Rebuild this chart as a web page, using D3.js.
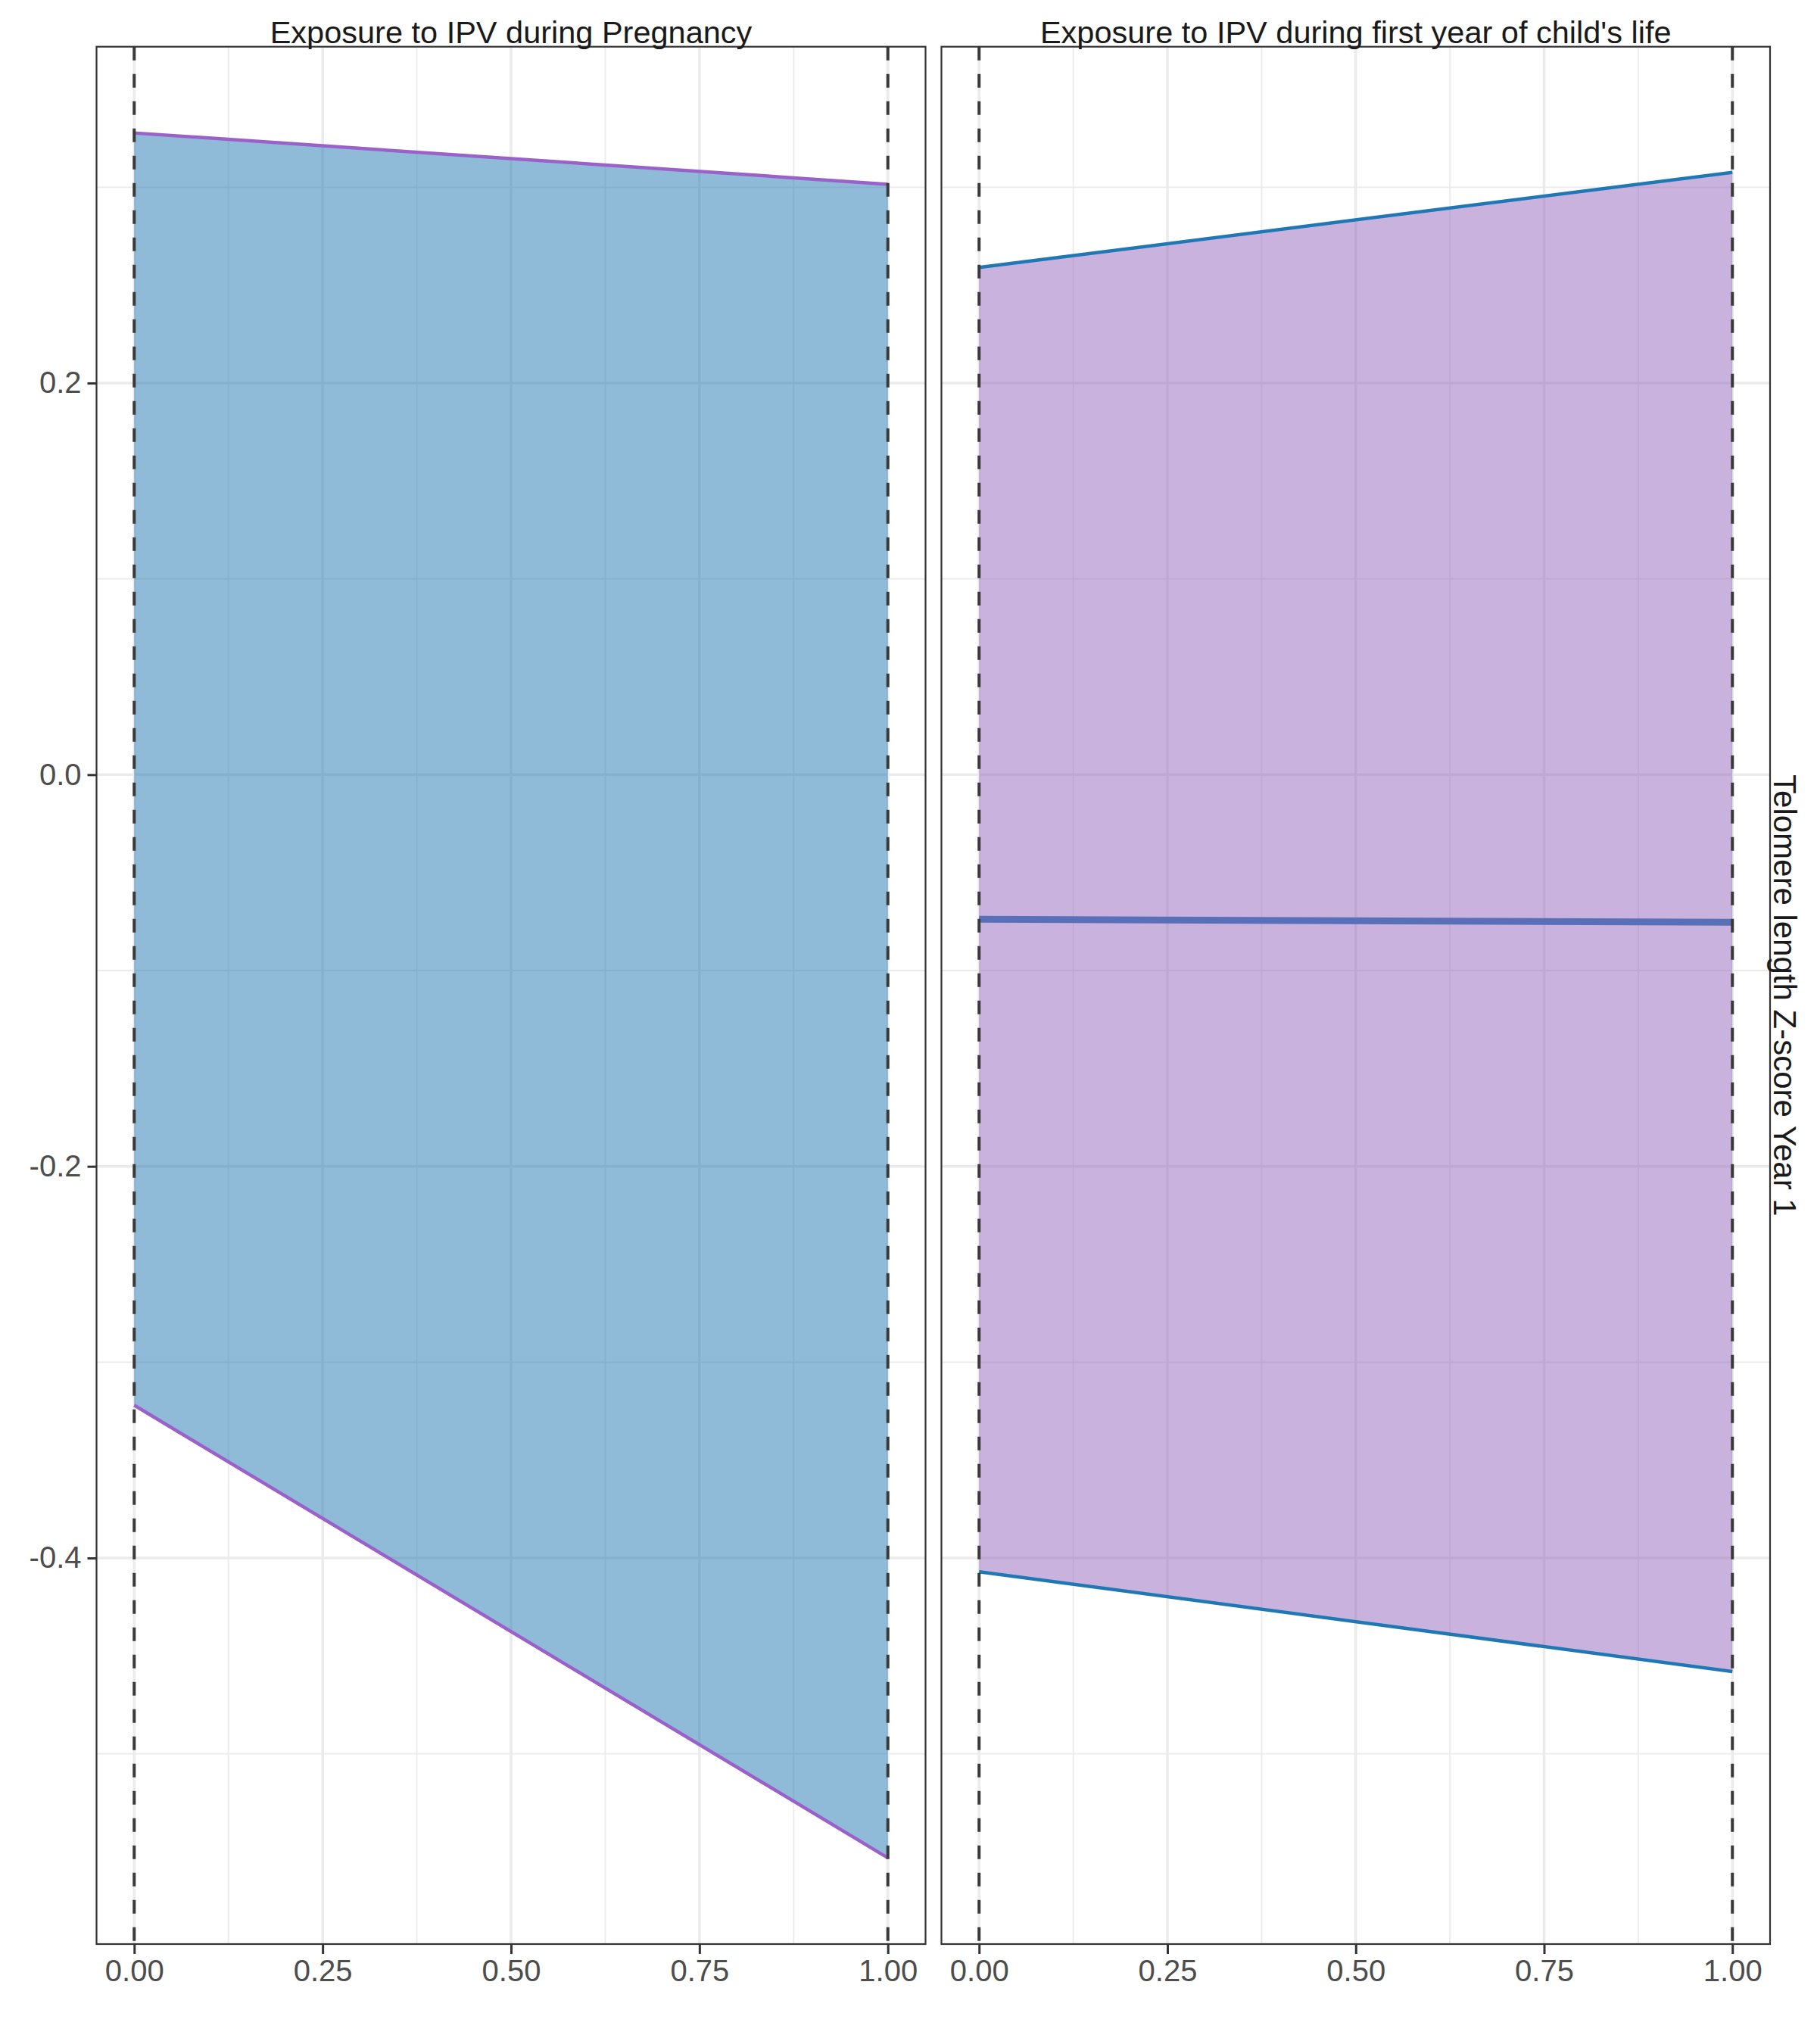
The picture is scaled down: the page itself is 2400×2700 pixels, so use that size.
<!DOCTYPE html>
<html><head><meta charset="utf-8">
<script src="https://cdn.jsdelivr.net/npm/d3@7"></script>
<style>body{margin:0;background:#fff}svg{display:block}text{font-family:"Liberation Sans",Arial,sans-serif}</style>
</head><body>
<script>
const panelTitles = ["Exposure to IPV during Pregnancy", "Exposure to IPV during first year of child's life"];
const rowTitle = "Telomere length Z-score Year 1";
const xValues = [0, 1];
const upperPreg = [0.3277, 0.3015];
const lowerPreg = [-0.3220, -0.5531];
const upperYear1 = [0.2590, 0.3076];
const lowerYear1 = [-0.4070, -0.4580];
const meanYear1 = [-0.0738, -0.0754];
const xTicks = [0, 0.25, 0.5, 0.75, 1];
const xMinor = [0.125, 0.375, 0.625, 0.875];
const yTicks = [0.2, 0.0, -0.2, -0.4];
const yMinor = [0.3, 0.1, -0.1, -0.3, -0.5];

const W = 2400, H = 2700;
const svg = d3.select("body").append("svg").attr("width", W).attr("height", H);

const pTop = 61.7, pBottom = 2568;
const panelsX = [[127.5, 1222.5], [1243.5, 2338]];

const allY = [...upperPreg, ...lowerPreg, ...upperYear1, ...lowerYear1, ...meanYear1];
const yMin = d3.min(allY), yMax = d3.max(allY), yr = yMax - yMin;
const y = d3.scaleLinear().domain([yMin - 0.05 * yr, yMax + 0.05 * yr]).range([pBottom, pTop]);

const panels = [
  {upper: upperPreg, lower: lowerPreg, fill: "#1F78B4", edge: "#9A62C8", mean: null},
  {upper: upperYear1, lower: lowerYear1, fill: "#9467BD", edge: "#1F78B4", mean: meanYear1}
];

panels.forEach((p, i) => {
  const [x0, x1] = panelsX[i];
  const x = d3.scaleLinear().domain([-0.05, 1.05]).range([x0, x1]);
  const g = svg.append("g");
  g.selectAll(".ymin").data(yMinor).join("line").attr("class","ymin")
    .attr("x1", x0).attr("x2", x1).attr("y1", d => y(d)).attr("y2", d => y(d))
    .attr("stroke", "#EBEBEB").attr("stroke-width", 1.8);
  g.selectAll(".xmin").data(xMinor).join("line").attr("class","xmin")
    .attr("x1", d => x(d)).attr("x2", d => x(d)).attr("y1", pTop).attr("y2", pBottom)
    .attr("stroke", "#EBEBEB").attr("stroke-width", 1.8);
  g.selectAll(".ymaj").data(yTicks).join("line").attr("class","ymaj")
    .attr("x1", x0).attr("x2", x1).attr("y1", d => y(d)).attr("y2", d => y(d))
    .attr("stroke", "#EBEBEB").attr("stroke-width", 3.5);
  g.selectAll(".xmaj").data(xTicks).join("line").attr("class","xmaj")
    .attr("x1", d => x(d)).attr("x2", d => x(d)).attr("y1", pTop).attr("y2", pBottom)
    .attr("stroke", "#EBEBEB").attr("stroke-width", 3.5);

  const rows = xValues.map((v, k) => ({x: v, lo: p.lower[k], hi: p.upper[k]}));
  if (p.mean) {
    g.append("path").datum(xValues.map((v, k) => ({x: v, y: p.mean[k]})))
      .attr("d", d3.line().x(d => x(d.x)).y(d => y(d.y)))
      .attr("stroke", "#1F78B4").attr("stroke-width", 9).attr("fill", "none");
  }
  g.append("path").datum(rows)
    .attr("d", d3.area().x(d => x(d.x)).y0(d => y(d.lo)).y1(d => y(d.hi)))
    .attr("fill", p.fill).attr("fill-opacity", 0.5);
  ["upper", "lower"].forEach(k => {
    g.append("path").datum(xValues.map((v, j) => ({x: v, y: p[k][j]})))
      .attr("d", d3.line().x(d => x(d.x)).y(d => y(d.y)))
      .attr("stroke", p.edge).attr("stroke-width", 4.5).attr("fill", "none");
  });
  g.selectAll(".vd").data(xValues).join("line").attr("class","vd")
    .attr("x1", d => x(d)).attr("x2", d => x(d)).attr("y1", pTop).attr("y2", pBottom)
    .attr("stroke", "#3a3a3a").attr("stroke-width", 4).attr("stroke-dasharray", "18 18");
  g.append("rect").attr("x", x0).attr("y", pTop).attr("width", x1 - x0).attr("height", pBottom - pTop)
    .attr("fill", "none").attr("stroke", "#333333").attr("stroke-width", 2.2);
  const xa = svg.append("g").attr("transform", `translate(0,${pBottom})`)
    .call(d3.axisBottom(x).tickValues(xTicks).tickFormat(d3.format(".2f")).tickSize(13).tickPadding(8));
  xa.select(".domain").remove();
  xa.selectAll(".tick line").attr("stroke", "#333333").attr("stroke-width", 3);
  xa.selectAll(".tick text").attr("fill", "#4D4D4D").attr("font-size", 40)
    .attr("font-family", "Liberation Sans, Arial, sans-serif");
  svg.append("text").attr("x", (x0 + x1) / 2).attr("y", 57).attr("text-anchor", "middle")
    .attr("font-size", 41.5).attr("fill", "#1A1A1A").text(panelTitles[i]);
  if (i === 0) {
    const ya = svg.append("g").attr("transform", `translate(${x0},0)`)
      .call(d3.axisLeft(y).tickValues(yTicks).tickFormat(d3.format(".1f")).tickSize(12).tickPadding(8));
    ya.select(".domain").remove();
    ya.selectAll(".tick line").attr("stroke", "#333333").attr("stroke-width", 3);
    ya.selectAll(".tick text").attr("fill", "#4D4D4D").attr("font-size", 40)
      .attr("font-family", "Liberation Sans, Arial, sans-serif").text(d => d3.format(".1f")(d).replace("−", "-"));
  }
});

svg.append("text").attr("transform", `translate(2343,${(pTop + pBottom) / 2}) rotate(90)`)
  .attr("text-anchor", "middle").attr("font-size", 42).attr("fill", "#1A1A1A").text(rowTitle);
</script>
</body></html>
